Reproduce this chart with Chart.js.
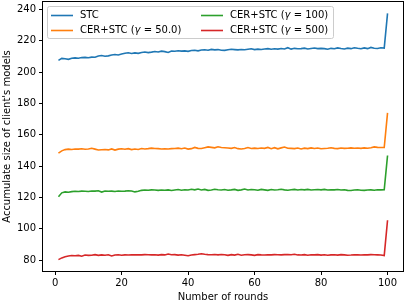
<!DOCTYPE html>
<html>
<head>
<meta charset="utf-8">
<script src="https://cdn.jsdelivr.net/npm/chart.js@4.4.1/dist/chart.umd.min.js"></script>
<style>
  html, body { margin: 0; padding: 0; background: #fff; }
  #wrap { width: 408px; height: 303px; }
</style>
</head>
<body>
<div id="wrap"><canvas id="myChart"></canvas></div>
<script>
const rounds = Array.from({ length: 100 }, (_, i) => i + 1);

const stc = [
  207.5, 208.8, 208.6, 208.2, 208.9, 209.1, 208.9, 209.3, 209.4, 209.2,
  209.6, 209.5, 210.3, 210.6, 210.2, 210.4, 210.9, 211.3, 211.0, 211.6,
  212.1, 212.4, 211.9, 212.3, 212.0, 212.6, 212.9, 212.5, 212.8, 213.2,
  212.9, 213.4, 213.1, 212.6, 213.5, 213.3, 213.7, 213.4, 213.6, 213.3,
  213.8, 214.0, 213.6, 214.1, 214.3, 214.0, 214.5, 214.2, 214.4, 214.0,
  213.9, 214.3, 214.6, 214.4, 214.2, 214.5, 214.3, 214.6, 214.9, 214.4,
  214.7, 214.5, 214.8, 215.0, 214.6, 214.9, 214.7, 215.1, 214.8, 215.6,
  214.7, 215.2, 214.9, 215.0, 215.3, 214.8, 215.1, 215.4, 215.0, 215.2,
  215.0, 214.6, 215.2, 214.9, 215.5, 215.1, 214.8, 215.3, 215.0, 215.6,
  215.2, 214.9, 215.5, 215.0, 215.8, 215.3, 215.1, 215.6, 215.4, 237.5
];
const cer50 = [
  148.3, 149.8, 150.6, 150.9, 150.7, 151.0, 150.9, 151.1, 150.8, 151.0,
  151.4, 150.9, 150.3, 150.5, 150.7, 150.4, 151.0, 150.3, 150.9, 151.1,
  150.8, 151.2, 150.6, 151.0, 150.7, 151.3, 151.0, 151.2, 151.5, 151.3,
  151.2, 151.0, 151.1, 151.0, 151.2, 151.3, 151.5, 151.1, 151.6, 150.9,
  151.2, 152.0, 151.4, 151.3, 151.8, 152.3, 152.0, 151.7, 152.4, 151.9,
  151.8, 151.6, 151.4, 151.9, 151.2, 151.0, 151.3, 151.9, 151.3, 151.5,
  151.3, 151.6, 151.4, 152.0, 151.2, 151.8, 151.1, 151.7, 152.2, 151.5,
  151.4, 151.2, 151.6, 151.0, 151.5, 151.2, 151.7, 151.3, 151.6, 151.1,
  151.3, 151.5, 151.8, 151.4, 151.2, 151.6, 151.4, 151.5, 151.7, 151.5,
  151.6, 151.4, 151.7, 151.5, 151.8, 152.3, 152.0, 151.9, 151.9, 174.0
];
const cer100 = [
  120.5, 123.0, 123.6, 123.4, 123.8, 124.0, 123.9, 124.1, 124.0, 123.9,
  124.2, 124.1, 124.3, 123.5, 124.2, 124.0, 124.1, 123.9, 124.2, 124.0,
  124.1, 124.3, 124.2, 123.6, 124.0, 124.6, 124.8, 124.7, 124.9, 124.8,
  124.6, 124.8, 124.7, 124.9, 124.5, 124.8, 125.1, 124.7, 125.0, 124.8,
  125.3, 124.9, 125.4, 124.8, 125.2, 124.6, 124.8, 125.3, 125.0, 124.8,
  125.1, 124.7, 124.9, 125.2, 124.6, 124.9, 125.4, 124.8, 125.1, 125.0,
  124.7, 125.2, 124.9, 124.6, 125.1, 124.8, 125.0, 125.3, 124.9, 124.7,
  125.0, 125.2, 124.8, 125.1, 124.9, 125.2, 124.8, 125.0, 125.1, 124.9,
  125.2, 124.8, 125.0, 124.9, 125.1, 124.8, 125.0, 124.6, 124.5, 124.8,
  125.0, 124.7, 124.6, 124.8, 124.9, 124.7, 125.0, 124.9, 125.0, 146.8
];
const cer500 = [
  80.4, 81.5, 82.2, 82.7, 83.0, 82.9, 83.1, 82.6, 83.3, 83.1,
  83.2, 83.6, 83.1, 83.4, 83.2, 83.5, 82.7, 83.3, 83.5, 83.2,
  83.4, 83.3, 83.5, 83.4, 83.5, 83.4, 83.6, 83.5, 83.4, 83.5,
  83.3, 83.6, 83.4, 84.0, 83.5, 83.6, 83.3, 83.5, 83.2, 82.9,
  83.3, 83.6, 83.8, 84.1, 83.8, 83.6, 83.5, 83.7, 83.4, 83.7,
  83.5, 83.1, 83.6, 83.3, 83.8, 83.2, 83.5, 83.6, 83.4, 83.1,
  83.6, 83.4, 83.3, 83.5, 83.4, 83.6, 83.5, 83.4, 83.6, 83.7,
  83.5, 83.8, 83.4, 83.3, 83.6, 83.2, 83.5, 83.4, 83.6, 83.3,
  83.5, 83.2, 83.4, 83.5, 83.3, 83.6, 83.4, 83.2, 83.3, 83.5,
  83.4, 83.3, 83.5, 83.4, 83.6, 83.5, 83.4, 83.3, 83.0, 105.5
];

const seriesNames = ["STC", "CER+STC (γ = 50.0)", "CER+STC (γ = 100)", "CER+STC (γ = 500)"];
const seriesColors = ["#1f77b4", "#ff7f0e", "#2ca02c", "#d62728"];
const xTicks = [0, 20, 40, 60, 80, 100];
const yTicks = [80, 100, 120, 140, 160, 180, 200, 220, 240];

const FONT = "'DejaVu Sans', sans-serif";
const FS = 10;

function toPoints(vals) {
  return vals.map((v, i) => ({ x: rounds[i], y: v }));
}

// matplotlib-style frame + 2 column legend drawn inside the plot
const framePlugin = {
  id: "frame",
  afterDraw(chart) {
    const { ctx, chartArea: a } = chart;
    ctx.save();
    ctx.strokeStyle = "#000";
    ctx.lineWidth = 1;
    ctx.strokeRect(Math.round(a.left) + 0.5, Math.round(a.top) + 0.5,
      Math.round(a.right - a.left) - 1, Math.round(a.bottom - a.top) - 1);

    // legend box
    const bx = a.left + 5.5, by = a.top + 5.5, bw = 286, bh = 32;
    ctx.fillStyle = "rgba(255,255,255,0.8)";
    ctx.strokeStyle = "#cccccc";
    ctx.beginPath();
    ctx.roundRect(bx, by, bw, bh, 2);
    ctx.fill();
    ctx.stroke();

    const cols = [{ hx: a.left + 9, tx: a.left + 38 }, { hx: a.left + 159, tx: a.left + 188 }];
    const rows = [a.top + 14.5, a.top + 29.5];
    // column-major order like matplotlib ncol=2
    const order = [[0, 0, 0], [1, 0, 1], [2, 1, 0], [3, 1, 1]];
    ctx.textBaseline = "middle";
    order.forEach(([idx, c, r]) => {
      const y = rows[r];
      ctx.strokeStyle = seriesColors[idx];
      ctx.lineWidth = 1.6;
      ctx.beginPath();
      ctx.moveTo(cols[c].hx, y);
      ctx.lineTo(cols[c].hx + 22, y);
      ctx.stroke();
      ctx.fillStyle = "#000";
      const name = seriesNames[idx];
      const gi = name.indexOf("γ");
      let x = cols[c].tx;
      ctx.font = FS + "px " + FONT;
      if (gi < 0) {
        ctx.fillText(name, x, y);
      } else {
        const pre = name.slice(0, gi), post = name.slice(gi + 1);
        ctx.fillText(pre, x, y);
        x += ctx.measureText(pre).width;
        ctx.font = "italic " + FS + "px " + FONT;
        ctx.fillText("γ", x, y);
        x += ctx.measureText("γ").width;
        ctx.font = FS + "px " + FONT;
        ctx.fillText(post, x, y);
      }
    });
    ctx.restore();
  },
};

const chart = new Chart(document.getElementById("myChart").getContext("2d"), {
  type: "line",
  data: {
    datasets: [
      { label: seriesNames[0], data: toPoints(stc), borderColor: seriesColors[0] },
      { label: seriesNames[1], data: toPoints(cer50), borderColor: seriesColors[1] },
      { label: seriesNames[2], data: toPoints(cer100), borderColor: seriesColors[2] },
      { label: seriesNames[3], data: toPoints(cer500), borderColor: seriesColors[3] },
    ].map((d) => ({ ...d, borderWidth: 1.6, pointRadius: 0, fill: false, tension: 0 })),
  },
  options: {
    responsive: true,
    maintainAspectRatio: false,
    animation: false,
    layout: { padding: { top: 1, right: 4, left: 0, bottom: 0 } },
    plugins: { legend: { display: false }, tooltip: { enabled: false } },
    scales: {
      x: {
        type: "linear",
        min: -3.95,
        max: 104.95,
        afterBuildTicks: (s) => { s.ticks = xTicks.map((v) => ({ value: v })); },
        afterFit: (s) => { s.height = 31; s.paddingLeft = 0; s.paddingRight = 0; },
        grid: { drawOnChartArea: false, drawTicks: true, tickLength: 3, color: "#000" },
        border: { display: false },
        ticks: { color: "#000", font: { family: FONT, size: FS }, padding: 2, maxRotation: 0 },
        title: { display: true, text: "Number of rounds", color: "#000",
          font: { family: FONT, size: FS }, padding: { top: 0, bottom: 0 } },
      },
      y: {
        type: "linear",
        min: 72.5,
        max: 245.4,
        afterBuildTicks: (s) => { s.ticks = yTicks.map((v) => ({ value: v })); },
        afterFit: (s) => { s.width = 42; s.paddingTop = 0; s.paddingBottom = 0; },
        grid: { drawOnChartArea: false, drawTicks: true, tickLength: 3, color: "#000" },
        border: { display: false },
        ticks: { color: "#000", font: { family: FONT, size: FS }, padding: 3 },
        title: { display: true, text: "Accumulate size of client's models", color: "#000",
          font: { family: FONT, size: FS }, padding: { top: 1, bottom: 0 } },
      },
    },
  },
  plugins: [framePlugin],
});
</script>
</body>
</html>
